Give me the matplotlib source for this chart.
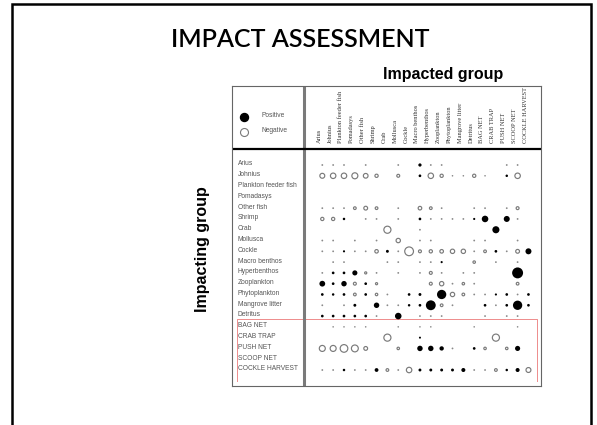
import matplotlib
matplotlib.use("Agg")
import matplotlib.pyplot as plt
from matplotlib.patches import Rectangle

# Impacted (columns) and impacting (rows) groups
impacted = ["Arius", "Johnius", "Plankton feeder fish", "Pomadasys", "Other fish",
            "Shrimp", "Crab", "Mollusca", "Cockle", "Macro benthos", "Hyperbenthos",
            "Zooplankton", "Phytoplankton", "Mangrove litter", "Detritus",
            "BAG NET", "CRAB TRAP", "PUSH NET", "SCOOP NET", "COCKLE HARVEST"]
impacting = list(impacted)

# Signed impact strength of each impacting group on each impacted group
arius          = [0.12, 0.12, 0.12, 0, 0.12, 0, 0, 0.12, 0, 0.25, 0.12, 0.12, 0, 0, 0, 0, 0, 0.12, 0.12, 0]
johnius        = [-0.40, -0.45, -0.45, -0.50, -0.38, -0.25, 0, -0.22, 0, 0.20, -0.45, -0.25, 0.1, 0.1, -0.25, 0.1, 0, 0.18, -0.45, 0]
plankton_fish  = [0] * 20
pomadasys      = [0] * 20
other_fish     = [0.12, 0.12, 0.12, -0.20, -0.30, -0.20, 0, 0.12, 0, -0.28, -0.20, 0.12, 0, 0, 0.12, 0.12, 0, 0.12, -0.22, 0]
shrimp         = [-0.25, -0.25, 0.18, 0, 0.12, 0.12, 0, 0.12, 0, 0.20, 0.12, 0.12, 0.12, 0.12, 0.15, 0.55, 0, 0.50, 0.12, 0]
crab           = [0, 0, 0, 0, 0, 0, -0.60, 0, 0, 0.12, 0, 0, 0, 0, 0, 0, 0.60, 0, 0, 0]
mollusca       = [0.12, 0.12, 0, 0.12, 0, 0.12, 0, -0.35, 0, 0.12, 0.12, 0, 0, 0, 0.12, 0.12, 0, 0, 0.12, 0]
cockle         = [0.12, 0.12, 0.15, 0.12, 0.12, -0.27, 0.22, 0.12, -0.75, -0.22, -0.25, -0.28, -0.35, -0.35, 0.12, -0.20, 0.20, 0.12, -0.30, 0.50]
macro_benthos  = [0, 0.12, 0.12, 0, 0, 0, 0.12, 0.12, 0, 0.12, 0.12, 0.15, 0, 0, -0.18, 0, 0.12, 0, 0.12, 0]
hyperbenthos   = [0.12, 0.20, 0.20, 0.42, -0.15, 0.12, 0, 0.12, 0, 0.12, -0.22, 0.12, 0, 0.12, 0.12, 0, 0, 0, 0.95, 0]
zooplankton    = [0.48, 0.20, 0.45, -0.22, 0.20, -0.15, 0, 0, 0, 0, -0.22, -0.35, 0.12, -0.18, 0.12, 0, 0, 0, -0.20, 0]
phytoplankton  = [0.20, 0.18, 0.20, -0.20, 0.20, -0.18, 0.12, 0, 0.20, 0.22, 0, 0.80, -0.35, -0.20, 0.12, 0.12, 0.15, 0.20, 0.12, 0.20]
mangrove       = [0.12, 0, 0.12, 0.22, 0, 0.45, 0.12, 0.12, 0.18, 0.20, 0.85, -0.20, 0.12, 0, 0, 0.20, 0.12, 0.20, 0.80, 0.20]
detritus       = [0.20, 0.20, 0.20, 0.20, 0.20, 0.12, 0, 0.55, 0, 0.12, 0.12, 0.12, 0, 0, 0, 0.12, 0, 0.12, 0.12, 0]
bag_net        = [0, 0.1, 0.1, 0.1, 0.1, 0, 0, 0.1, 0, 0.1, 0.1, 0, 0, 0, 0.1, 0, 0, 0, 0.1, 0]
crab_trap      = [0, 0, 0, 0, 0, 0, -0.60, 0, 0, 0.14, 0, 0, 0, 0, 0, 0, -0.60, 0, 0, 0]
push_net       = [-0.50, -0.50, -0.65, -0.58, -0.30, 0, 0, -0.18, 0, 0.45, 0.45, 0.35, 0.12, 0, 0.20, -0.18, 0, -0.18, 0.42, 0]
scoop_net      = [0] * 20
cockle_harvest = [0.12, 0.12, 0.18, 0.12, 0.12, 0.30, -0.20, 0.12, -0.45, 0.22, 0.22, 0.22, 0.22, 0.32, 0.12, 0.12, -0.20, 0.18, 0.32, -0.40]

rows = [arius, johnius, plankton_fish, pomadasys, other_fish, shrimp, crab, mollusca,
        cockle, macro_benthos, hyperbenthos, zooplankton, phytoplankton, mangrove,
        detritus, bag_net, crab_trap, push_net, scoop_net, cockle_harvest]

W, H, DPI = 597, 425, 100
fig = plt.figure(figsize=(W / DPI, H / DPI), dpi=DPI)
fig.patch.set_facecolor("white")


def fx(px):
    return px / W


def fy(py):
    return 1 - py / H


# outer slide frame
fig.add_artist(Rectangle((fx(12), -0.1), fx(591) - fx(12), fy(4) + 0.1,
                         transform=fig.transFigure, fill=False,
                         edgecolor="black", linewidth=1.8))

fig.text(fx(300), fy(47), "IMPACT ASSESSMENT", ha="center", va="baseline",
         fontsize=18, fontweight="semibold", family="Lato", color="black")
fig.text(fx(443), fy(79), "Impacted group", ha="center", va="baseline",
         fontsize=11.5, fontweight="bold", family="Liberation Sans")
fig.text(fx(203), fy(249), "Impacting group", ha="center", va="center",
         rotation=90, fontsize=11.5, fontweight="bold", family="Liberation Sans")

# matrix panel
left, right, top, bottom = 232, 541, 86, 386
ax = fig.add_axes([fx(left), fy(bottom), fx(right) - fx(left), fy(top) - fy(bottom)])
x0, dx = 322.3, 10.85
y0, dy = 165.0, 10.79
ax.set_xlim((left - x0) / dx, (right - x0) / dx)
ax.set_ylim((bottom - y0) / dy, (top - y0) / dy)
ax.set_xticks([])
ax.set_yticks([])
for sp in ax.spines.values():
    sp.set_color("#666666")
    sp.set_linewidth(0.8)

xs, ys, ss, fcs, ecs, lws = [], [], [], [], [], []
for j, row in enumerate(rows):
    for i, v in enumerate(row):
        if v == 0:
            continue
        d = (11 * abs(v) + 0.5) * 0.72
        xs.append(i)
        ys.append(j)
        ss.append(d * d)
        if v > 0:
            fcs.append("black" if v > 0.13 else "#8a8a8a")
            ecs.append("none")
            lws.append(0)
        else:
            fcs.append("white")
            ecs.append("#7a7a7a")
            lws.append(0.85)
ax.scatter(xs, ys, s=ss, facecolors=fcs, edgecolors=ecs, linewidths=lws, zorder=3)

# separators
ax.axvline((303.5 - x0) / dx, color="#7a7a7a", linewidth=2.2, zorder=2)
ax.axhline((149 - y0) / dy, color="black", linewidth=1.6, zorder=2)

# outline around the fishing gears
gx0, gx1 = (237 - x0) / dx, (537 - x0) / dx
gy0, gy1 = (319 - y0) / dy, (381 - y0) / dy
ax.plot([gx0, gx0, gx1, gx1], [gy1, gy0, gy0, gy1], color="#ee8c8c", linewidth=0.7, zorder=1)

# row labels
for j, name in enumerate(impacting):
    ax.text((238 - x0) / dx, j - 0.1, name, ha="left", va="center", fontsize=4.8,
            family="Liberation Sans", color="#555555")

# column labels
for i, name in enumerate(impacted):
    ax.text(i - 0.3, (143 - y0) / dy, name, ha="center", va="bottom", rotation=90,
            fontsize=4.6, family="Liberation Serif", color="#333333")

# legend
lx = (244 - x0) / dx
ax.scatter([lx], [(117 - y0) / dy], s=(8 * 0.72) ** 2, color="black", zorder=3)
ax.scatter([lx], [(132 - y0) / dy], s=(8 * 0.72) ** 2, facecolors="white",
           edgecolors="#7a7a7a", linewidths=0.8, zorder=3)
ax.text((261 - x0) / dx, (116 - y0) / dy, "Positive", ha="left", va="center",
        fontsize=4.8, family="Liberation Sans", color="#555555")
ax.text((261 - x0) / dx, (131 - y0) / dy, "Negative", ha="left", va="center",
        fontsize=4.8, family="Liberation Sans", color="#555555")

fig.savefig("out.png", dpi=DPI)
